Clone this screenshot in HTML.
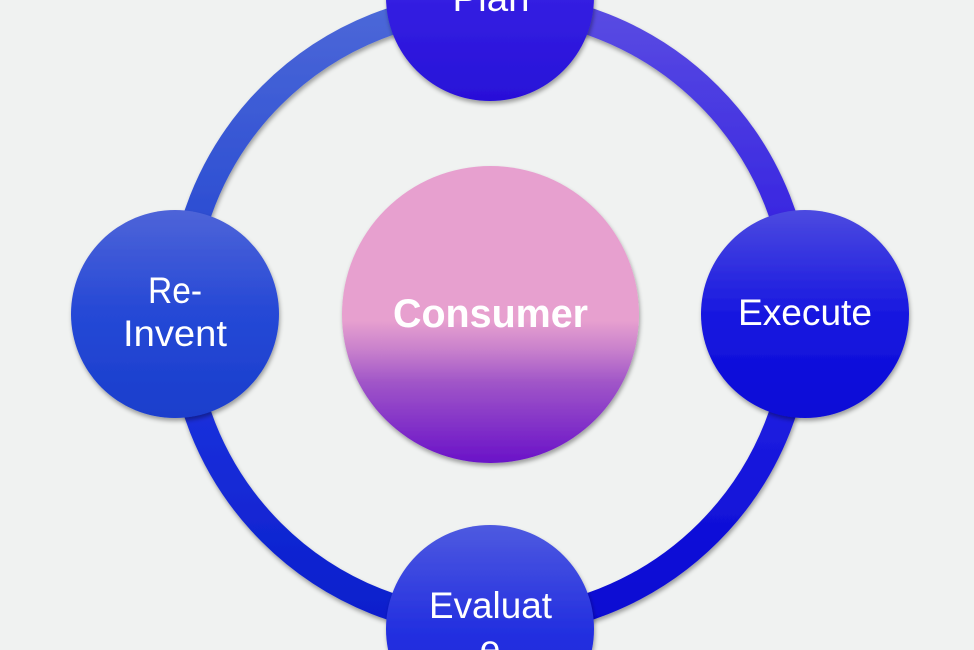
<!DOCTYPE html>
<html>
<head>
<meta charset="utf-8">
<style>
  html, body { margin: 0; padding: 0; background: #f0f2f1; width: 974px; height: 650px; overflow: hidden; }
  svg { display: block; }
  text { font-family: "Liberation Sans", sans-serif; fill: #ffffff; }
</style>
</head>
<body>
<svg width="974" height="650" viewBox="0 0 974 650" xmlns="http://www.w3.org/2000/svg" overflow="hidden">
  <defs>
    <filter id="sh" x="-20%" y="-20%" width="140%" height="140%">
      <feDropShadow dx="1" dy="3" stdDeviation="2" flood-color="#000" flood-opacity="0.35"/>
    </filter>
    <linearGradient id="gUL" gradientUnits="userSpaceOnUse" x1="0" y1="5" x2="0" y2="314">
      <stop offset="0" stop-color="#4c68d8"/>
      <stop offset="1" stop-color="#1e42d0"/>
    </linearGradient>
    <linearGradient id="gUR" gradientUnits="userSpaceOnUse" x1="0" y1="5" x2="0" y2="314">
      <stop offset="0" stop-color="#5a4ce2"/>
      <stop offset="1" stop-color="#2a16e0"/>
    </linearGradient>
    <linearGradient id="gLR" gradientUnits="userSpaceOnUse" x1="0" y1="314" x2="0" y2="623">
      <stop offset="0" stop-color="#2828e6"/>
      <stop offset="1" stop-color="#0606d2"/>
    </linearGradient>
    <linearGradient id="gLL" gradientUnits="userSpaceOnUse" x1="0" y1="314" x2="0" y2="623">
      <stop offset="0" stop-color="#2238e2"/>
      <stop offset="1" stop-color="#0a1ecc"/>
    </linearGradient>
    <linearGradient id="gPlan" x1="0" y1="0" x2="0" y2="1">
      <stop offset="0" stop-color="#4a48e0"/>
      <stop offset="0.5" stop-color="#3420e2"/>
      <stop offset="1" stop-color="#2810d8"/>
    </linearGradient>
    <linearGradient id="gRe" x1="0" y1="0" x2="0" y2="1">
      <stop offset="0" stop-color="#4e64d8"/>
      <stop offset="0.5" stop-color="#2548d6"/>
      <stop offset="1" stop-color="#1a3ecc"/>
    </linearGradient>
    <linearGradient id="gEx" x1="0" y1="0" x2="0" y2="1">
      <stop offset="0" stop-color="#4c4ae0"/>
      <stop offset="0.5" stop-color="#1818e0"/>
      <stop offset="1" stop-color="#0808d6"/>
    </linearGradient>
    <linearGradient id="gEv" x1="0" y1="0" x2="0" y2="1">
      <stop offset="0" stop-color="#4e5ae0"/>
      <stop offset="0.5" stop-color="#2430e0"/>
      <stop offset="1" stop-color="#1420d8"/>
    </linearGradient>
    <linearGradient id="gCon" x1="0" y1="0" x2="0" y2="1">
      <stop offset="0" stop-color="#e7a0cf"/>
      <stop offset="0.52" stop-color="#e7a0cf"/>
      <stop offset="0.62" stop-color="#c880cc"/>
      <stop offset="0.73" stop-color="#a055c8"/>
      <stop offset="0.845" stop-color="#8838c8"/>
      <stop offset="1" stop-color="#6a12c8"/>
    </linearGradient>
  </defs>

  <rect width="974" height="650" fill="#f0f2f1"/>

  <!-- Ring arcs -->
  <g fill="none" stroke-width="27" filter="url(#sh)">
    <path d="M181,314 A309,309 0 0 1 490,5" stroke="url(#gUL)"/>
    <path d="M490,5 A309,309 0 0 1 799,314" stroke="url(#gUR)"/>
    <path d="M799,314 A309,309 0 0 1 490,623" stroke="url(#gLR)"/>
    <path d="M490,623 A309,309 0 0 1 181,314" stroke="url(#gLL)"/>
  </g>

  <!-- Center -->
  <circle cx="490.5" cy="314.5" r="148.5" fill="url(#gCon)" filter="url(#sh)"/>
  <text x="490.5" y="327" font-size="40" font-weight="bold" text-anchor="middle" textLength="195" lengthAdjust="spacingAndGlyphs">Consumer</text>

  <!-- Plan -->
  <circle cx="490" cy="-3" r="104" fill="url(#gPlan)" filter="url(#sh)"/>
  <text x="491" y="11" font-size="37" text-anchor="middle" textLength="77" lengthAdjust="spacingAndGlyphs">Plan</text>

  <!-- Re-Invent -->
  <circle cx="175" cy="314" r="104" fill="url(#gRe)" filter="url(#sh)"/>
  <text x="175" y="303" font-size="37" text-anchor="middle" textLength="54" lengthAdjust="spacingAndGlyphs">Re-</text>
  <text x="175" y="346" font-size="37" text-anchor="middle" textLength="104" lengthAdjust="spacingAndGlyphs">Invent</text>

  <!-- Execute -->
  <circle cx="805" cy="314" r="104" fill="url(#gEx)" filter="url(#sh)"/>
  <text x="805" y="325" font-size="37" text-anchor="middle" textLength="134" lengthAdjust="spacingAndGlyphs">Execute</text>

  <!-- Evaluate -->
  <circle cx="490" cy="629" r="104" fill="url(#gEv)" filter="url(#sh)"/>
  <text x="490.5" y="618" font-size="37" text-anchor="middle" textLength="123" lengthAdjust="spacingAndGlyphs">Evaluat</text>
  <text x="490" y="661" font-size="37" text-anchor="middle">e</text>
</svg>
</body>
</html>
